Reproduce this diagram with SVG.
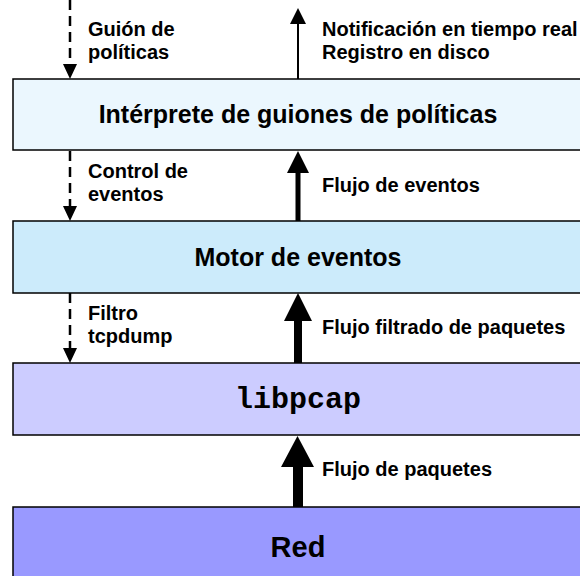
<svg xmlns="http://www.w3.org/2000/svg" width="580" height="576" viewBox="0 0 580 576">
<style>
.box{stroke:#000;stroke-width:1.5}
.lbl{font-family:"Liberation Sans",Arial,sans-serif;font-weight:bold;font-size:20px;fill:#000}
.title{font-family:"Liberation Sans",Arial,sans-serif;font-weight:bold;font-size:25px;fill:#000;text-anchor:middle}
.dash{stroke:#000;stroke-width:2.5;stroke-dasharray:10,6;fill:none}
</style>
<rect width="580" height="576" fill="#fff"/>
<g id="connectors">
  <line class="dash" x1="70" y1="0" x2="70" y2="64"/>
  <polygon points="63,64 77,64 70,79"/>
  <line class="dash" x1="70" y1="151" x2="70" y2="206"/>
  <polygon points="63,206 77,206 70,221"/>
  <line class="dash" x1="70" y1="293" x2="70" y2="348"/>
  <polygon points="63,348 77,348 70,363"/>
  <line x1="298" y1="79" x2="298" y2="22" stroke="#000" stroke-width="2"/>
  <polygon points="290,24 306,24 298,8"/>
  <rect x="295.5" y="170" width="5" height="51"/>
  <polygon points="287,173 309,173 298,151"/>
  <rect x="294" y="318" width="8" height="45"/>
  <polygon points="284,321 312,321 298,293"/>
  <rect x="293" y="464" width="10" height="43"/>
  <polygon points="281,467 314,467 297.5,436"/>
</g>
<g id="labels">
  <text class="lbl" x="88" y="36">Guión de</text>
  <text class="lbl" x="88" y="59">políticas</text>
  <text class="lbl" x="322" y="36">Notificación en tiempo real</text>
  <text class="lbl" x="322" y="59">Registro en disco</text>
  <text class="lbl" x="88" y="178">Control de</text>
  <text class="lbl" x="88" y="201">eventos</text>
  <text class="lbl" x="322" y="192">Flujo de eventos</text>
  <text class="lbl" x="88" y="320">Filtro</text>
  <text class="lbl" x="88" y="343">tcpdump</text>
  <text class="lbl" x="322" y="334">Flujo filtrado de paquetes</text>
  <text class="lbl" x="322" y="476">Flujo de paquetes</text>
</g>
<g id="interprete">
  <rect class="box" x="13" y="79" width="580" height="71" fill="#EBF7FE"/>
  <text class="title" x="298" y="123">Intérprete de guiones de políticas</text>
</g>
<g id="motor">
  <rect class="box" x="13" y="221" width="580" height="72" fill="#CCEBFB"/>
  <text class="title" x="298" y="266">Motor de eventos</text>
</g>
<g id="libpcap">
  <rect class="box" x="13" y="363" width="580" height="72" fill="#CCCCFF"/>
  <text x="298" y="408" font-family="'Liberation Mono','Courier New',monospace" font-weight="bold" font-size="30" text-anchor="middle">libpcap</text>
</g>
<g id="red">
  <rect class="box" x="13" y="507" width="580" height="80" fill="#9999FF"/>
  <text class="title" x="298" y="557" style="font-size:29px">Red</text>
</g>
</svg>
